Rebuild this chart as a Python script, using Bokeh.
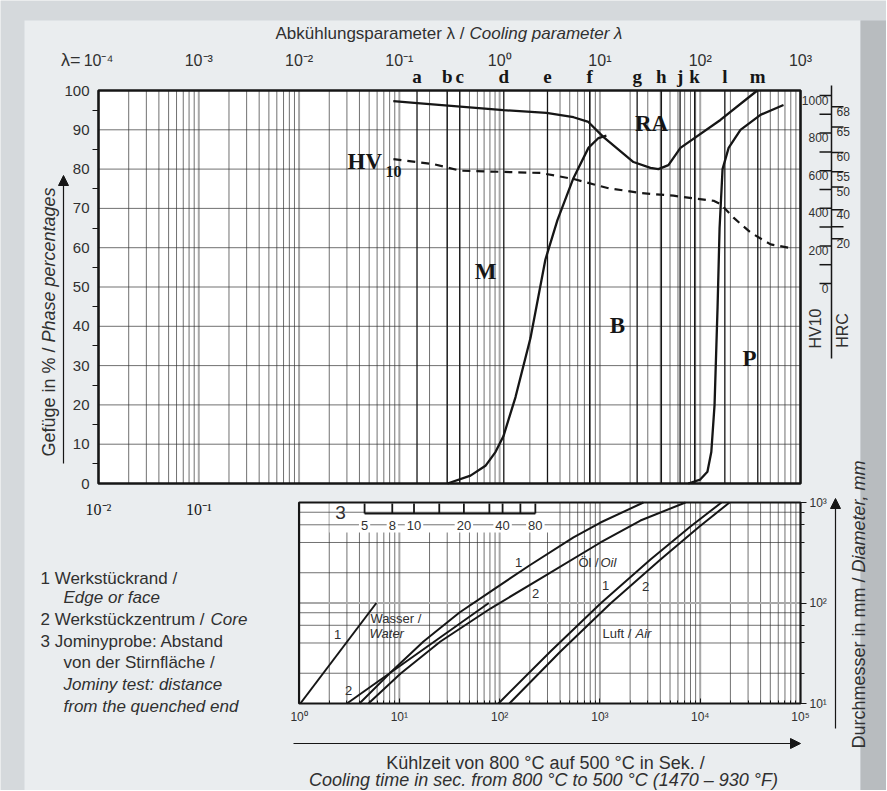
import math
from bokeh.plotting import figure
from bokeh.models import (Range1d, LogScale, LogAxis, LinearAxis, FixedTicker,
                          CustomJSTickFormatter, Label, Arrow, NormalHead)
from bokeh.core.properties import value
from bokeh.embed import file_html
from bokeh.resources import INLINE

# ---------------- data ----------------
# upper chart: cooling parameter lambda (= t8/5 / 100 s) vs phase percentages
lam_ticks = [1e-4, 1e-3, 1e-2, 1e-1, 1e0, 1e1, 1e2, 1e3]
t_ticks_upper = [1e-2, 1e-1]
pct_ticks = [0, 10, 20, 30, 40, 50, 60, 70, 80, 90, 100]
pct_minor = [5, 15, 25, 35, 45, 55, 65, 75, 85, 95]
letter_names = ["a", "b", "c", "d", "e", "f", "g", "h", "j", "k", "l", "m"]
letter_lam = [0.15, 0.30, 0.40, 1.1, 3.0, 7.9, 23.5, 41, 63, 88, 176, 375]

# boundary martensite+bainite / retained austenite (RA)
ra_lam = [0.087, 0.151, 1.09, 2.93, 5.45, 7.67, 10.8, 21.6, 31.9, 38.3, 48.2, 63.5, 159, 371]
ra_pct = [97.3, 96.8, 95.0, 94.3, 93.2, 92.0, 88.2, 81.8, 80.3, 80.0, 81.0, 85.4, 92.5, 100]
# boundary martensite / bainite
mb_lam = [0.302, 0.512, 0.722, 0.908, 1.09, 1.44, 2.03, 2.86, 3.77, 5.44, 7.68, 9.67, 11.6]
mb_pct = [0, 2, 4.5, 8, 12, 22, 37, 57, 67, 77.7, 85.4, 87.9, 88.5]
# boundary bainite / pearlite
bp_lam = [76, 100, 118, 129, 139, 149, 156, 167, 192, 252, 399, 677]
bp_pct = [0, 1, 3, 8, 20, 45, 65, 80, 85.4, 90, 93.8, 96.3]
# hardness HV10
hv_lam = [0.0873, 0.219, 0.407, 2.55, 5.44, 11.9, 25.4, 54.1, 136, 159, 215, 318, 504, 797]
hv_val = [662, 635, 600, 588, 556, 508, 481, 467, 440, 423, 350, 271, 208, 188]

hv_ticks = [0, 100, 200, 300, 400, 500, 600, 700, 800, 900, 1000]
hv_labels = [0, 200, 400, 600, 800, 1000]
hrc_vals = [68, 65, 60, 55, 50, 40, 30, 20]
hrc_as_hv = [940, 832, 697, 595, 513, 392, 302, 238]
hrc_labels = [68, 65, 60, 55, 50, 40, 20]

# lower chart: cooling time t8/5 (s) vs diameter (mm)
t_ticks = [1, 10, 100, 1e3, 1e4, 1e5]
dia_ticks = [10, 100, 1000]
dia_minor = [20, 40, 60, 80, 200, 400, 600, 800]
water1_t = [1.03, 5.9]
water1_d = [10, 100]
water2_t = [3.0, 78]
water2_d = [10, 100]
oil1_t = [4.0, 8.16, 17.4, 39.8, 81, 198, 545, 1013, 2716]
oil1_d = [10, 20.3, 41.4, 80.4, 130, 236, 449, 632, 1000]
oil2_t = [4.92, 10.3, 25.7, 81, 255, 1013, 2535, 7130]
oil2_d = [10, 19.9, 41.4, 88.1, 175, 400, 662, 1000]
air1_t = [97.3, 321, 1013, 3192, 7998, 16300]
air1_d = [10, 32.9, 98.9, 271, 577, 1000]
air2_t = [125, 404, 1274, 4018, 9840, 19600]
air2_d = [10, 32.9, 98.9, 271, 577, 1000]
jominy_mm = [5, 8, 10, 15, 20, 30, 40, 60, 80]
jominy_t = [4.5, 8.5, 14, 25, 44, 79, 107, 161, 227]
jominy_labeled = [5, 8, 10, 20, 40, 80]

# ---------------- layout helpers (page pixels -> plot coordinates) ----------------
W, H = 886, 790
DEC_X = 702 / 7.0          # px per decade, horizontal
PCT = 3.93                 # px per percent
DEC_Y = 100.5              # px per decade, lower chart vertical


def lam_px(x):
    return 10 ** (-4 + (x - 98) / DEC_X)


def t_px(x):
    return 10 ** (-2 + (x - 98) / DEC_X)


def pct_px(y):
    return (483 - y) / PCT


def d_px(y):
    return 10 ** (1 + (703 - y) / DEC_Y)


def hv_px(y):
    return (283 - y) / 0.188


INK = "#161616"
TXT = "#303030"
SANS = "Liberation Sans"
SERIF = "Liberation Serif"
OUTER = "#d5d9dc"
PANEL = "#eaedef"

# the frame covers the whole canvas
p = figure(width=W, height=H, x_axis_type="log",
           x_range=Range1d(lam_px(0), lam_px(W)), y_range=Range1d(pct_px(H), pct_px(0)),
           x_axis_location=None, y_axis_location=None,
           min_border_left=0, min_border_right=0, min_border_top=0, min_border_bottom=0,
           toolbar_location=None, output_backend="svg",
           background_fill_color=OUTER, border_fill_color=OUTER, outline_line_color=None)
p.grid.visible = False
p.extra_x_ranges = {"t": Range1d(t_px(0), t_px(W))}
p.extra_x_scales = {"t": LogScale()}
p.extra_y_ranges = {"dia": Range1d(d_px(H), d_px(0)),
                    "hv": Range1d(hv_px(H), hv_px(0))}
p.extra_y_scales = {"dia": LogScale()}

sup_code = """
const e = Math.round(Math.log10(tick));
const s = {'-':'\u207b','0':'\u2070','1':'\u00b9','2':'\u00b2','3':'\u00b3','4':'\u2074','5':'\u2075','6':'\u2076','7':'\u2077','8':'\u2078','9':'\u2079'};
return '10' + String(e).split('').map(c => s[c]).join('');
"""


def sup(e):
    s = {'-': '\u207b', '0': '\u2070', '1': '\u00b9', '2': '\u00b2', '3': '\u00b3',
         '4': '\u2074', '5': '\u2075', '6': '\u2076', '7': '\u2077', '8': '\u2078', '9': '\u2079'}
    return '10' + ''.join(s[c] for c in str(e))


# panel backgrounds
p.quad(left=[lam_px(24)], right=[lam_px(860)], bottom=[pct_px(H + 10)], top=[pct_px(20)],
       fill_color=PANEL, line_color=None)
p.quad(left=[lam_px(860)], right=[lam_px(W + 10)], bottom=[pct_px(H + 10)], top=[pct_px(20)],
       fill_color="#b8bcbf", line_color=None)

# ---------------- upper chart ----------------
p.quad(left=[1e-4], right=[1e3], bottom=[0], top=[100], fill_color="white", line_color=None)
minor_lam = [k * 10 ** n for n in range(-4, 3) for k in range(2, 10)]
dec_lam = [10 ** n for n in range(-3, 3)]
p.segment(x0=dec_lam, x1=dec_lam, y0=0, y1=100, line_color="#a8a8a8", line_width=2)
p.segment(x0=minor_lam, x1=minor_lam, y0=0, y1=100, line_color="#333333", line_width=0.7)
p.segment(x0=1e-4, x1=1e3, y0=pct_ticks[1:-1], y1=pct_ticks[1:-1], line_color="#333333", line_width=0.7)
p.segment(x0=letter_lam, x1=letter_lam, y0=0, y1=100, line_color=INK, line_width=1.3)

p.line(ra_lam, ra_pct, line_color=INK, line_width=2.3)
p.line(mb_lam, mb_pct, line_color=INK, line_width=2.3)
p.line(bp_lam, bp_pct, line_color=INK, line_width=2.3)
p.line(hv_lam, hv_val, y_range_name="hv", line_color=INK, line_width=2.2, line_dash="8 6")
p.quad(left=[1e-4], right=[1e3], bottom=[0], top=[100], fill_color=None, line_color=INK, line_width=2.6)

p.text(x=[lam_px(651), lam_px(485), lam_px(617), lam_px(749)],
       y=[pct_px(123), pct_px(271), pct_px(325), pct_px(358)],
       text=["RA", "M", "B", "P"], text_font=value(SERIF), text_font_style="bold",
       text_font_size="23px", text_align="center", text_baseline="middle", text_color=INK)
p.text(x=[lam_px(347)], y=[pct_px(161)], text=["HV"], text_font=value(SERIF), text_font_style="bold",
       text_font_size="23px", text_align="left", text_baseline="middle", text_color=INK)
p.text(x=[lam_px(385)], y=[pct_px(171)], text=["10"], text_font=value(SERIF), text_font_style="bold",
       text_font_size="16px", text_align="left", text_baseline="middle", text_color=INK)

# bottom t labels of the upper chart (serif)
p.text(x=t_ticks_upper, y=pct_px(509), text=[sup(-2), sup(-1)], x_range_name="t",
       text_font=value(SERIF), text_font_size="16px", text_align="center", text_baseline="middle",
       text_color=INK)

# left percentage axis
yax = LinearAxis(ticker=FixedTicker(ticks=pct_ticks, minor_ticks=pct_minor), fixed_location=1e-4,
                 axis_line_color=None, major_tick_out=0, major_tick_in=0,
                 minor_tick_out=6, minor_tick_in=0, minor_tick_line_color=INK,
                 major_label_standoff=3, major_label_text_font=SANS,
                 major_label_text_font_size="15px", major_label_text_color=TXT)
p.add_layout(yax, "left")

# letters above the chart
lax = LogAxis(ticker=FixedTicker(ticks=letter_lam), fixed_location=pct_px(97),
              formatter=CustomJSTickFormatter(args=dict(vals=letter_lam, names=letter_names),
                                              code="const i = vals.findIndex(v => Math.abs(v - tick) / v < 1e-6); return i >= 0 ? names[i] : '';"),
              axis_line_color=None, major_tick_line_color=None, minor_tick_line_color=None,
              major_label_standoff=5, major_label_text_font=SERIF, major_label_text_font_style="bold",
              major_label_text_font_size="19px", major_label_text_color=INK)
p.add_layout(lax, "above")
# lambda decades
tax = LogAxis(ticker=FixedTicker(ticks=lam_ticks), fixed_location=pct_px(74),
              formatter=CustomJSTickFormatter(code=sup_code),
              axis_line_color=None, major_tick_line_color=None, minor_tick_line_color=None,
              major_label_standoff=0, major_label_text_font=SANS,
              major_label_text_font_size="16px", major_label_text_color=TXT)
p.add_layout(tax, "above")

p.add_layout(Label(x=lam_px(80), y=pct_px(59), text="\u03bb=", text_align="right", text_baseline="middle",
                   text_font=SANS, text_font_size="18px", text_color=TXT))
p.add_layout(Label(x=lam_px(464), y=pct_px(33), text="Abk\u00fchlungsparameter \u03bb /", text_align="right",
                   text_baseline="middle", text_font=SANS, text_font_size="17px", text_color=TXT))
p.add_layout(Label(x=lam_px(469), y=pct_px(33), text="Cooling parameter \u03bb", text_align="left",
                   text_baseline="middle", text_font=SANS, text_font_style="italic",
                   text_font_size="17px", text_color=TXT))

# left axis title + arrow
p.add_layout(Label(x=lam_px(48), y=pct_px(347), text="Gef\u00fcge in % /", angle=math.pi / 2,
                   text_align="right", text_baseline="middle", text_font=SANS,
                   text_font_size="18px", text_color=TXT))
p.add_layout(Label(x=lam_px(48), y=pct_px(342), text="Phase percentages", angle=math.pi / 2,
                   text_align="left", text_baseline="middle", text_font=SANS, text_font_style="italic",
                   text_font_size="18px", text_color=TXT))
p.add_layout(Arrow(end=NormalHead(size=10, fill_color=INK, line_color=INK),
                   x_start=lam_px(63), y_start=pct_px(463), x_end=lam_px(63), y_end=pct_px(175),
                   line_color=INK, line_width=1.2))

# HV10 / HRC scales at right
xl = lam_px(831)
p.add_layout(Arrow(end=None, x_start=xl, x_end=xl, y_start=hv_px(85), y_end=hv_px(358),
                   y_range_name="hv", line_color=INK, line_width=1.5))
p.segment(x0=lam_px(819), x1=xl, y0=hv_ticks, y1=hv_ticks, y_range_name="hv", line_color=INK, line_width=1.5)
p.segment(x0=xl, x1=lam_px(843), y0=hrc_as_hv, y1=hrc_as_hv, y_range_name="hv", line_color=INK,
          line_width=1.5)
p.text(x=lam_px(828), y=hv_labels, text=[str(h) for h in hv_labels], y_range_name="hv",
       text_align="right", text_baseline="top", text_font=value(SANS), text_font_size="12px", text_color=TXT)
lab_hrc_hv = [h for r, h in zip(hrc_vals, hrc_as_hv) if r in hrc_labels]
p.text(x=lam_px(836), y=lab_hrc_hv, text=[str(r) for r in hrc_labels], y_range_name="hv",
       text_align="left", text_baseline="top", text_font=value(SANS), text_font_size="12px", text_color=TXT)
p.add_layout(Label(x=lam_px(815), y=pct_px(328), text="HV10", angle=math.pi / 2, text_align="center",
                   text_baseline="middle", text_font=SANS, text_font_size="16px", text_color=TXT))
p.add_layout(Label(x=lam_px(842), y=pct_px(330), text="HRC", angle=math.pi / 2, text_align="center",
                   text_baseline="middle", text_font=SANS, text_font_size="16px", text_color=TXT))

# ---------------- lower chart ----------------
kw = dict(x_range_name="t", y_range_name="dia")
p.quad(left=[1], right=[1e5], bottom=[10], top=[1000], fill_color="white", line_color=None, **kw)
minor_t = [k * 10 ** n for n in range(0, 5) for k in range(2, 10)]
dec_t = [10, 100, 1e3, 1e4]
p.segment(x0=dec_t, x1=dec_t, y0=10, y1=1000, line_color="#a8a8a8", line_width=2, **kw)
p.segment(x0=minor_t, x1=minor_t, y0=10, y1=1000, line_color="#333333", line_width=0.7, **kw)
# white box behind Jominy ruler
p.quad(left=[t_px(329)], right=[t_px(555)], bottom=[d_px(532)], top=[1000], fill_color="white",
       line_color=None, **kw)
p.segment(x0=1, x1=1e5, y0=[100], y1=[100], line_color="#a8a8a8", line_width=2, **kw)
p.segment(x0=1, x1=1e5, y0=dia_minor, y1=dia_minor, line_color="#333333", line_width=0.7, **kw)

for tt, dd in [(water1_t, water1_d), (water2_t, water2_d), (oil1_t, oil1_d), (oil2_t, oil2_d),
               (air1_t, air1_d), (air2_t, air2_d)]:
    p.line(tt, dd, line_color=INK, line_width=2, line_join="round", **kw)

p.quad(left=[1], right=[1e5], bottom=[10], top=[1000], fill_color=None, line_color=INK, line_width=2.2, **kw)

# Jominy ruler
ry0, ry1 = d_px(513), d_px(503)
p.segment(x0=jominy_t[0], x1=jominy_t[-1], y0=ry0, y1=ry0, line_color=INK, line_width=1.8, **kw)
p.segment(x0=jominy_t, x1=jominy_t, y0=ry0, y1=ry1, line_color=INK, line_width=1.8, **kw)
lab_t = [t for m, t in zip(jominy_mm, jominy_t) if m in jominy_labeled]
p.text(x=lab_t, y=d_px(525), text=[str(m) for m in jominy_labeled], text_font=value(SANS),
       text_font_size="13px", text_align="center", text_baseline="middle", text_color=TXT,
       background_fill_color="white", padding=2, **kw)
p.text(x=[t_px(340)], y=[d_px(512)], text=["3"], text_font=value(SANS), text_font_size="19px",
       text_align="center", text_baseline="middle", text_color=TXT, **kw)

# curve annotations
lt = dict(text_font=value(SANS), text_font_size="13px", text_baseline="middle", text_color=TXT, **kw)
p.text(x=[t_px(337), t_px(348), t_px(518), t_px(535), t_px(605), t_px(645)],
       y=[d_px(634), d_px(690), d_px(562), d_px(593), d_px(585), d_px(586)],
       text=["1", "2", "1", "2", "1", "2"], text_align="center", **lt)
p.text(x=[t_px(370), t_px(578), t_px(602)], y=[d_px(618), d_px(562), d_px(633)],
       text=["Wasser /", "\u00d6l /", "Luft /"], text_align="left", **lt)
p.text(x=[t_px(369), t_px(600), t_px(635)], y=[d_px(633), d_px(562), d_px(633)],
       text=["Water", "Oil", "Air"], text_align="left", text_font_style="italic", **lt)

# lower axes
bax = LogAxis(x_range_name="t", y_range_name="dia", fixed_location=10,
              ticker=FixedTicker(ticks=t_ticks, minor_ticks=minor_t),
              formatter=CustomJSTickFormatter(code=sup_code),
              axis_line_color=None, major_tick_in=5, major_tick_out=0, minor_tick_in=3, minor_tick_out=0,
              major_tick_line_color=INK, minor_tick_line_color=INK,
              major_label_standoff=6, major_label_text_font=SANS,
              major_label_text_font_size="12px", major_label_text_color=TXT)
p.add_layout(bax, "below")
rax = LogAxis(x_range_name="t", y_range_name="dia", fixed_location=1e5,
              ticker=FixedTicker(ticks=dia_ticks, minor_ticks=dia_minor),
              formatter=CustomJSTickFormatter(code=sup_code),
              axis_line_color=None, major_tick_out=6, major_tick_in=0, minor_tick_out=4, minor_tick_in=0,
              major_tick_line_color=INK, minor_tick_line_color=INK,
              major_label_standoff=3, major_label_text_font=SANS,
              major_label_text_font_size="12px", major_label_text_color=TXT)
p.add_layout(rax, "right")

p.add_layout(Label(x=t_px(858), y=d_px(577), x_range_name="t", y_range_name="dia",
                   text="Durchmesser in mm /", angle=math.pi / 2, text_align="right",
                   text_baseline="middle", text_font=SANS, text_font_size="18px", text_color=TXT))
p.add_layout(Label(x=t_px(858), y=d_px(572), x_range_name="t", y_range_name="dia",
                   text="Diameter, mm", angle=math.pi / 2, text_align="left", text_font_style="italic",
                   text_baseline="middle", text_font=SANS, text_font_size="18px", text_color=TXT))
p.add_layout(Arrow(end=NormalHead(size=10, fill_color=INK, line_color=INK), x_range_name="t",
                   y_range_name="dia", x_start=t_px(835), x_end=t_px(835), y_start=d_px(728),
                   y_end=d_px(498), line_color=INK, line_width=1.2))
p.add_layout(Arrow(end=NormalHead(size=10, fill_color=INK, line_color=INK), x_range_name="t",
                   y_range_name="dia", x_start=t_px(293), x_end=t_px(800), y_start=d_px(743),
                   y_end=d_px(743), line_color=INK, line_width=1.2))
p.add_layout(Label(x=t_px(545), y=d_px(762), x_range_name="t", y_range_name="dia",
                   text="K\u00fchlzeit von 800 \u00b0C auf 500 \u00b0C in Sek. /", text_align="center",
                   text_baseline="middle", text_font=SANS, text_font_size="18px", text_color=TXT))
p.add_layout(Label(x=t_px(543), y=d_px(779), x_range_name="t", y_range_name="dia",
                   text="Cooling time in sec. from 800 \u00b0C to 500 \u00b0C (1470 \u2013 930 \u00b0F)",
                   text_align="center", text_font_style="italic",
                   text_baseline="middle", text_font=SANS, text_font_size="18px", text_color=TXT))

# legend text at left
legend_lines = [
    (40, 578, "1 Werkst\u00fcckrand /", "normal"),
    (63, 597, "Edge or face", "italic"),
    (40, 619, "2 Werkst\u00fcckzentrum /", "normal"),
    (210, 619, "Core", "italic"),
    (40, 641, "3 Jominyprobe: Abstand", "normal"),
    (63, 662, "von der Stirnfl\u00e4che /", "normal"),
    (63, 684, "Jominy test: distance", "italic"),
    (63, 706, "from the quenched end", "italic"),
]
for x, y, s, st in legend_lines:
    p.add_layout(Label(x=lam_px(x), y=pct_px(y), text=s, text_align="left", text_baseline="middle",
                       text_font=SANS, text_font_style=st, text_font_size="17px", text_color=TXT))

open("out.html", "w").write(file_html(p, INLINE))
